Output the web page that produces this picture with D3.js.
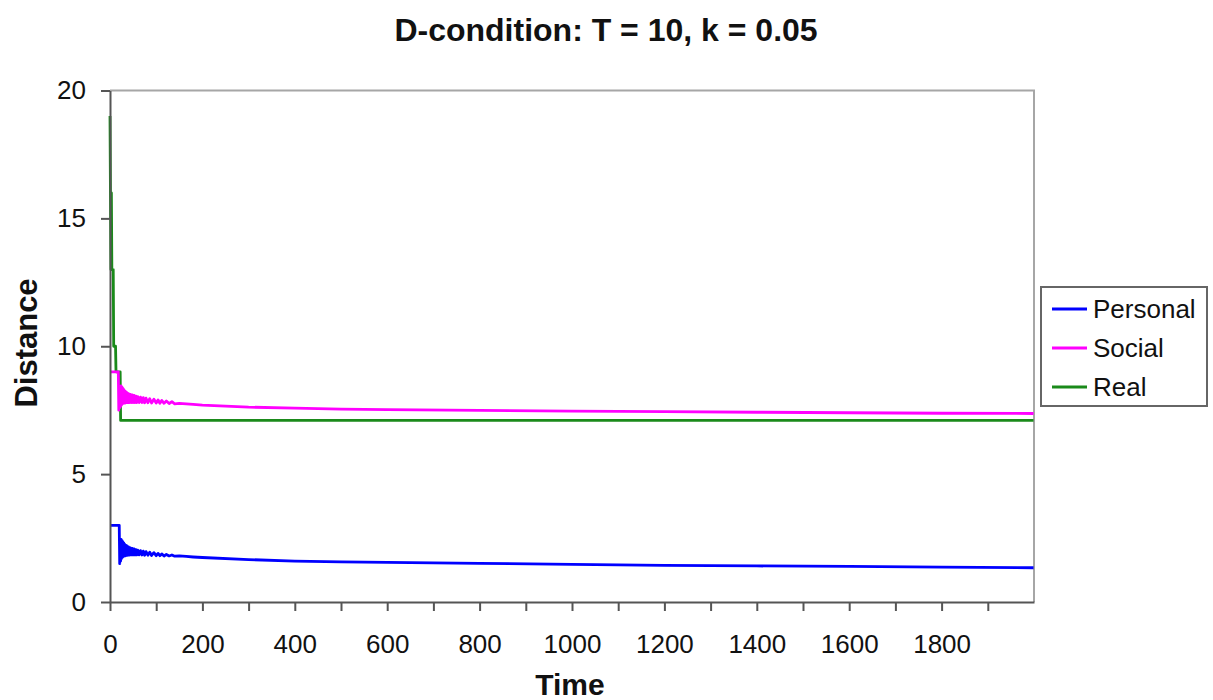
<!DOCTYPE html>
<html>
<head>
<meta charset="utf-8">
<script src="https://cdn.jsdelivr.net/npm/d3@7"></script>
<style>
  html, body { margin: 0; padding: 0; background: #fff; }
  svg { display: block; font-family: "Liberation Sans", Arial, sans-serif; }
</style>
</head>
<body>
<svg id="chart" width="1213" height="700"></svg>
<script>
// Time steps and distances for each series
const personalTime = [
  0, 20, 21, 22, 23, 24, 25, 26, 27, 28, 29, 30, 31, 32, 33, 34, 35, 36, 37, 38, 39, 40,
  42, 44, 46, 48, 50, 52, 54, 56, 58, 60, 63, 66, 69, 72, 75, 78, 82, 86, 90, 95, 100,
  104, 108, 112, 117, 122, 128, 134, 140, 150, 165, 180, 200, 300, 400, 500, 600, 800, 1000, 1200, 1400, 1600, 1800, 1999
];
const personalValue = [
  3, 3, 1.5, 2.1, 1.6, 2.45, 1.7, 2.4, 1.75, 2.35, 1.78, 2.3, 1.8, 2.25, 1.8, 2.22, 1.82, 2.2, 1.82, 2.17, 1.83, 2.15,
  1.83, 2.12, 1.84, 2.1, 1.84, 2.08, 1.84, 2.05, 1.84, 2.03, 1.84, 2.01, 1.84, 1.99, 1.83, 1.97, 1.83, 1.95, 1.82, 1.93, 1.81,
  1.9, 1.81, 1.88, 1.8, 1.86, 1.8, 1.84, 1.79, 1.8, 1.78, 1.76, 1.74, 1.66, 1.6, 1.57, 1.55, 1.51, 1.47, 1.43, 1.41, 1.39, 1.36, 1.34
];

const socialTime = [
  0, 18, 19, 20, 21, 22, 23, 24, 25, 26, 27, 28, 29, 30, 31, 32, 33, 34, 35, 36, 37, 38, 39, 40,
  42, 44, 46, 48, 50, 52, 54, 56, 58, 60, 63, 66, 69, 72, 75, 78, 82, 86, 90, 95, 100,
  104, 108, 112, 117, 122, 128, 134, 140, 150, 165, 180, 200, 300, 400, 500, 600, 800, 1000, 1200, 1400, 1600, 1800, 1999
];
const socialValue = [
  9, 9, 7.5, 8.0, 7.6, 8.1, 7.65, 8.45, 7.7, 8.4, 7.75, 8.35, 7.77, 8.3, 7.78, 8.25, 7.78, 8.22, 7.8, 8.2, 7.8, 8.17, 7.8, 8.15,
  7.8, 8.12, 7.8, 8.1, 7.8, 8.08, 7.8, 8.05, 7.8, 8.03, 7.8, 8.01, 7.8, 7.99, 7.79, 7.97, 7.79, 7.95, 7.78, 7.93, 7.78,
  7.9, 7.77, 7.88, 7.77, 7.86, 7.76, 7.83, 7.75, 7.77, 7.75, 7.73, 7.7, 7.62, 7.58, 7.54, 7.52, 7.49, 7.46, 7.44, 7.42, 7.40, 7.38, 7.37
];

const realTime  = [0, 1, 2, 3, 4, 7, 8, 12, 13, 22, 23, 1999];
const realValue = [19, 16, 13, 16, 13, 13, 10, 10, 9, 9, 7.1, 7.1];

const seriesNames  = ["Personal", "Social", "Real"];
const seriesColors = ["#0000ff", "#ff00ff", "#1a8a1a"];

const xTicks      = d3.range(0, 2000, 100);
const xTickLabels = [0, 200, 400, 600, 800, 1000, 1200, 1400, 1600, 1800];
const yTicks      = [0, 5, 10, 15, 20];

const titleText = "D-condition: T = 10, k = 0.05";
const xTitle = "Time";
const yTitle = "Distance";

// Layout
const plot = { left: 110, right: 1034, top: 90.5, bottom: 602 };
const svg = d3.select("#chart");

const x = d3.scaleLinear().domain([0, 2000]).range([plot.left, plot.right]);
const y = d3.scaleLinear().domain([0, 20]).range([plot.bottom, plot.top]);

// Plot frame (top and right edges)
svg.append("path")
  .attr("d", `M${plot.left},${plot.top}H${plot.right}V${plot.bottom}`)
  .attr("fill", "none")
  .attr("stroke", "#a6a6a6")
  .attr("stroke-width", 2);

// Series lines
const series = [
  { name: seriesNames[0], color: seriesColors[0], t: personalTime, v: personalValue },
  { name: seriesNames[1], color: seriesColors[1], t: socialTime,   v: socialValue },
  { name: seriesNames[2], color: seriesColors[2], t: realTime,     v: realValue }
];

const line = d3.line().x(d => x(d[0])).y(d => y(d[1]));

// Draw in back-to-front order: Real beneath Social
[series[2], series[1], series[0]].forEach(s => {
  svg.append("path")
    .datum(d3.zip(s.t, s.v))
    .attr("fill", "none")
    .attr("stroke", s.color)
    .attr("stroke-width", 2.8)
    .attr("stroke-linejoin", "round")
    .attr("d", line);
});

// Axes
const xAxis = svg.append("g")
  .attr("transform", `translate(0,${plot.bottom})`)
  .call(d3.axisBottom(x)
    .tickValues(xTicks)
    .tickSize(9)
    .tickPadding(24)
    .tickSizeOuter(0)
    .tickFormat(d => xTickLabels.includes(d) ? d : ""));

const yAxis = svg.append("g")
  .attr("transform", `translate(${plot.left},0)`)
  .call(d3.axisLeft(y)
    .tickValues(yTicks)
    .tickSize(9)
    .tickPadding(15)
    .tickSizeOuter(0));

[xAxis, yAxis].forEach(g => {
  g.select(".domain").attr("stroke", "#555").attr("stroke-width", 2);
  g.selectAll(".tick line").attr("stroke", "#555").attr("stroke-width", 2);
  g.selectAll(".tick text")
    .attr("fill", "#111")
    .style("font-size", "26px")
    .style("font-family", '"Liberation Sans", Arial, sans-serif');
});

// Titles
svg.append("text")
  .attr("x", 606).attr("y", 41)
  .attr("text-anchor", "middle")
  .style("font-size", "32px").style("font-weight", "bold")
  .attr("fill", "#111")
  .text(titleText);

svg.append("text")
  .attr("x", 570).attr("y", 695)
  .attr("text-anchor", "middle")
  .style("font-size", "30px").style("font-weight", "bold")
  .attr("fill", "#111")
  .text(xTitle);

svg.append("text")
  .attr("transform", "translate(37,343) rotate(-90)")
  .attr("text-anchor", "middle")
  .style("font-size", "31px").style("font-weight", "bold")
  .attr("fill", "#111")
  .text(yTitle);

// Legend
const legend = svg.append("g");
legend.append("rect")
  .attr("x", 1041).attr("y", 287)
  .attr("width", 166).attr("height", 119)
  .attr("fill", "#fff")
  .attr("stroke", "#666")
  .attr("stroke-width", 2);

series.forEach((s, i) => {
  const ly = 309 + i * 39;
  legend.append("line")
    .attr("x1", 1052).attr("x2", 1087)
    .attr("y1", ly).attr("y2", ly)
    .attr("stroke", s.color)
    .attr("stroke-width", 2.8);
  legend.append("text")
    .attr("x", 1093).attr("y", ly + 9)
    .style("font-size", "26px")
    .attr("fill", "#111")
    .text(s.name);
});
</script>
</body>
</html>
